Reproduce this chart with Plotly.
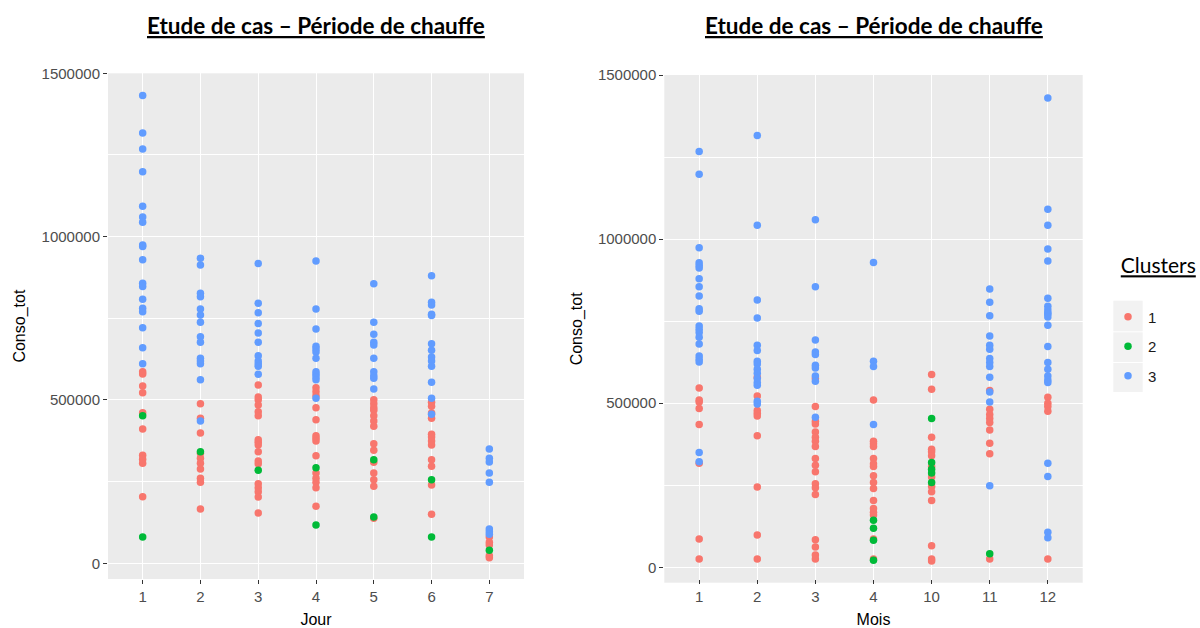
import plotly.graph_objects as go

# ---------------- data ----------------
jour_cats = ["1", "2", "3", "4", "5", "6", "7"]
mois_cats = ["1", "2", "3", "4", "10", "11", "12"]
cluster_names = ["1", "2", "3"]
cluster_colors = ["#F8766D", "#00BA38", "#619CFF"]

# Conso_tot by Jour, one list per day (cluster 1)
jour_c1 = [
    [586700, 579600, 542900, 522400, 461100, 411200, 330700, 318400, 306200, 204000],
    [488700, 444000, 399000, 336800, 321500, 306200, 288700, 260300, 248000, 166300],
    [546000, 509200, 501000, 484700, 464200, 452000, 378500, 370500, 362200, 341700,
     313200, 305000, 243700, 231500, 219200, 203000, 154000],
    [537700, 525400, 513200, 476400, 439700, 390700, 382700, 374500, 329500, 276500,
     260300, 248000, 231500, 174500],
    [501000, 488700, 476400, 468500, 452000, 435700, 419500, 366200, 346000, 309300,
     276500, 256000, 235800, 137800],
    [493000, 480700, 460200, 444000, 395000, 386700, 374500, 362200, 317200, 297000,
     239700, 150000],
    [80500, 64300, 56000, 23300, 17100],
]
jour_c2 = [
    [452000, 80500],
    [341700],
    [284800],
    [292700, 117300],
    [317200, 141800],
    [256000, 80500],
    [39800],
]
jour_c3 = [
    [1431800, 1317600, 1268600, 1199000, 1093000, 1060400, 1044000, 974600, 969500,
     929600, 857400, 847000, 808400, 780800, 770400, 721400, 660200, 611200],
    [933900, 913400, 826700, 816300, 778700, 760300, 738000, 693900, 676700, 627700,
     619400, 611200, 562200, 435700],
    [917400, 796100, 767300, 733700, 705200, 676700, 635700, 619400, 611200, 603200, 578700],
    [925600, 778700, 717400, 664400, 656200, 646900, 627700, 586700, 578700, 570400,
     562200, 505200],
    [856100, 738000, 701200, 676700, 668400, 627700, 586700, 574400, 566500, 533700],
    [880600, 799200, 790900, 762400, 758200, 672400, 652200, 631700, 619400, 603200,
     554200, 505200, 456200],
    [350000, 321500, 310000, 276500, 248000, 105000, 96800, 88800],
]

# Conso_tot by Mois, one list per month (cluster 1)
mois_c1 = [
    [546500, 510000, 503900, 483800, 435100, 317400, 86100, 25300],
    [579100, 522200, 477800, 469500, 461300, 400500, 244400, 98300, 25300],
    [575100, 489900, 445200, 437000, 412600, 396500, 384300, 368200, 331700, 311300,
     290900, 254400, 242200, 222100, 84000, 61800, 37400, 25300],
    [510000, 384300, 376100, 368200, 331700, 315300, 307300, 278700, 258700, 240400,
     203900, 179500, 167400, 159100, 86100, 25300],
    [587300, 542600, 396500, 360000, 351800, 339600, 307300, 274800, 246500, 230000,
     203900, 65700, 25300, 19200],
    [538600, 481700, 465600, 453400, 441200, 418700, 378200, 345700, 25300],
    [518200, 500000, 489900, 475600, 25300],
]
mois_c2 = [
    [],
    [],
    [],
    [143000, 118700, 82200, 21300],
    [453400, 319500, 299100, 287000, 258700],
    [41400],
    [],
]
mois_c3 = [
    [1266800, 1197700, 973800, 928100, 919900, 911700, 879400, 855100, 826500, 788100,
     779900, 735200, 725100, 715100, 700800, 680400, 643900, 633900, 625600, 349900, 321300],
    [1315500, 1042500, 814300, 759500, 676500, 660300, 627800, 619600, 603400, 591200,
     575100, 563000, 554700, 506100, 497800],
    [1059000, 855100, 692600, 656100, 648200, 615600, 607400, 583100, 566900, 457400],
    [929000, 627800, 611600, 435100],
    [],
    [847800, 807300, 766800, 704800, 676500, 664300, 636000, 623800, 611600, 579100,
     534400, 503900, 248300],
    [1430200, 1091200, 1042500, 969500, 933000, 819500, 795100, 783900, 774700, 771700,
     762600, 737300, 672500, 623800, 603400, 583100, 570900, 562800, 317400, 276900,
     106500, 90100],
]

y_ticks = [0, 500000, 1000000, 1500000]
title_text = "Etude de cas – Période de chauffe"


def flatten(cats, groups):
    xs, ys = [], []
    for c, vals in zip(cats, groups):
        for v in vals:
            xs.append(c)
            ys.append(v)
    return xs, ys


W, H = 1200, 628
fig = go.Figure()

panels = [
    ("x", "y", jour_cats, [jour_c1, jour_c2, jour_c3]),
    ("x2", "y2", mois_cats, [mois_c1, mois_c2, mois_c3]),
]
draw_order = [0, 2, 1]
for pi, (xa, ya, cats, groups) in enumerate(panels):
    for ci in draw_order:
        xs, ys = flatten(cats, groups[ci])
        fig.add_trace(go.Scatter(
            x=xs, y=ys, mode="markers", xaxis=xa, yaxis=ya,
            name=cluster_names[ci], legendgroup=cluster_names[ci],
            legendrank=ci + 1, showlegend=(pi == 0),
            marker=dict(color=cluster_colors[ci], size=7.5, line=dict(width=0)),
        ))

tick_font = dict(family="Liberation Sans, Arial", size=15, color="#4D4D4D")
title_font = dict(family="Liberation Sans, Arial", size=16, color="#000000")


def xaxis_cfg(domain, cats, title, standoff):
    return dict(
        domain=domain, type="category", categoryorder="array", categoryarray=cats,
        range=[-0.6, len(cats) - 0.4], showgrid=True, gridcolor="white", gridwidth=1.1,
        zeroline=False, ticks="outside", ticklen=4, tickwidth=1, tickcolor="#333333",
        tickfont=tick_font, showline=False, automargin=False,
        title=dict(text=title, font=title_font, standoff=standoff),
    )


def yaxis_cfg(domain, rng, anchor):
    return dict(
        domain=domain, range=rng, tickvals=y_ticks, ticktext=[str(t) for t in y_ticks],
        showgrid=True, gridcolor="white", gridwidth=1.1, zeroline=False,
        ticks="outside", ticklen=4, tickwidth=1, tickcolor="#333333",
        tickfont=tick_font, anchor=anchor, automargin=False,
        minor=dict(tickvals=[250000, 750000, 1250000], showgrid=True,
                   gridcolor="white", gridwidth=0.5, ticks=""),
        title=dict(text="Conso_tot", font=title_font, standoff=11),
    )


lx = [108 / W, 524 / W]
rx = [664.3 / W, 1082.7 / W]
ly = [1 - 579 / H, 1 - 73.3 / H]
ry = [1 - 582.7 / H, 1 - 75 / H]

fig.update_layout(
    width=W, height=H,
    margin=dict(l=0, r=0, t=0, b=0, autoexpand=False),
    paper_bgcolor="white", plot_bgcolor="#EBEBEB",
    xaxis=xaxis_cfg(lx, jour_cats, "Jour", 9),
    xaxis2=xaxis_cfg(rx, mois_cats, "Mois", 11),
    yaxis=yaxis_cfg(ly, [-48060, 1500000], "x"),
    yaxis2=yaxis_cfg(ry, [-46900, 1500000], "x2"),
    showlegend=True,
    legend=dict(
        x=1108 / W, xanchor="left", y=1 - 246 / H, yanchor="top",
        bgcolor="rgba(0,0,0,0)", borderwidth=0,
        font=dict(family="Liberation Sans, Arial", size=15, color="#1a1a1a"),
        title=dict(text="&nbsp;&nbsp;<u>Clusters</u><br> ",
                   font=dict(family="Lato", size=21, color="#000")),
        tracegroupgap=7, itemsizing="trace",
    ),
)

for cx in [(lx[0] + lx[1]) / 2, (rx[0] + rx[1]) / 2]:
    fig.add_annotation(
        x=cx, y=1 - 25 / H, xref="paper", yref="paper", showarrow=False,
        xanchor="center", yanchor="middle",
        text="<b><u>" + title_text + "</u></b>",
        font=dict(family="Lato", size=22.5, color="#000"),
    )

# grey legend key backgrounds
for top, bot in [(300.7, 331.3), (332.3, 362), (363, 392)]:
    fig.add_shape(type="rect", xref="paper", yref="paper",
                  x0=1113.3 / W, x1=1142.7 / W, y0=1 - bot / H, y1=1 - top / H,
                  fillcolor="#F2F2F2", line=dict(width=0), layer="below")

fig.write_html("out.html", config={"displayModeBar": False},
               post_script="document.body.style.margin='0';")
